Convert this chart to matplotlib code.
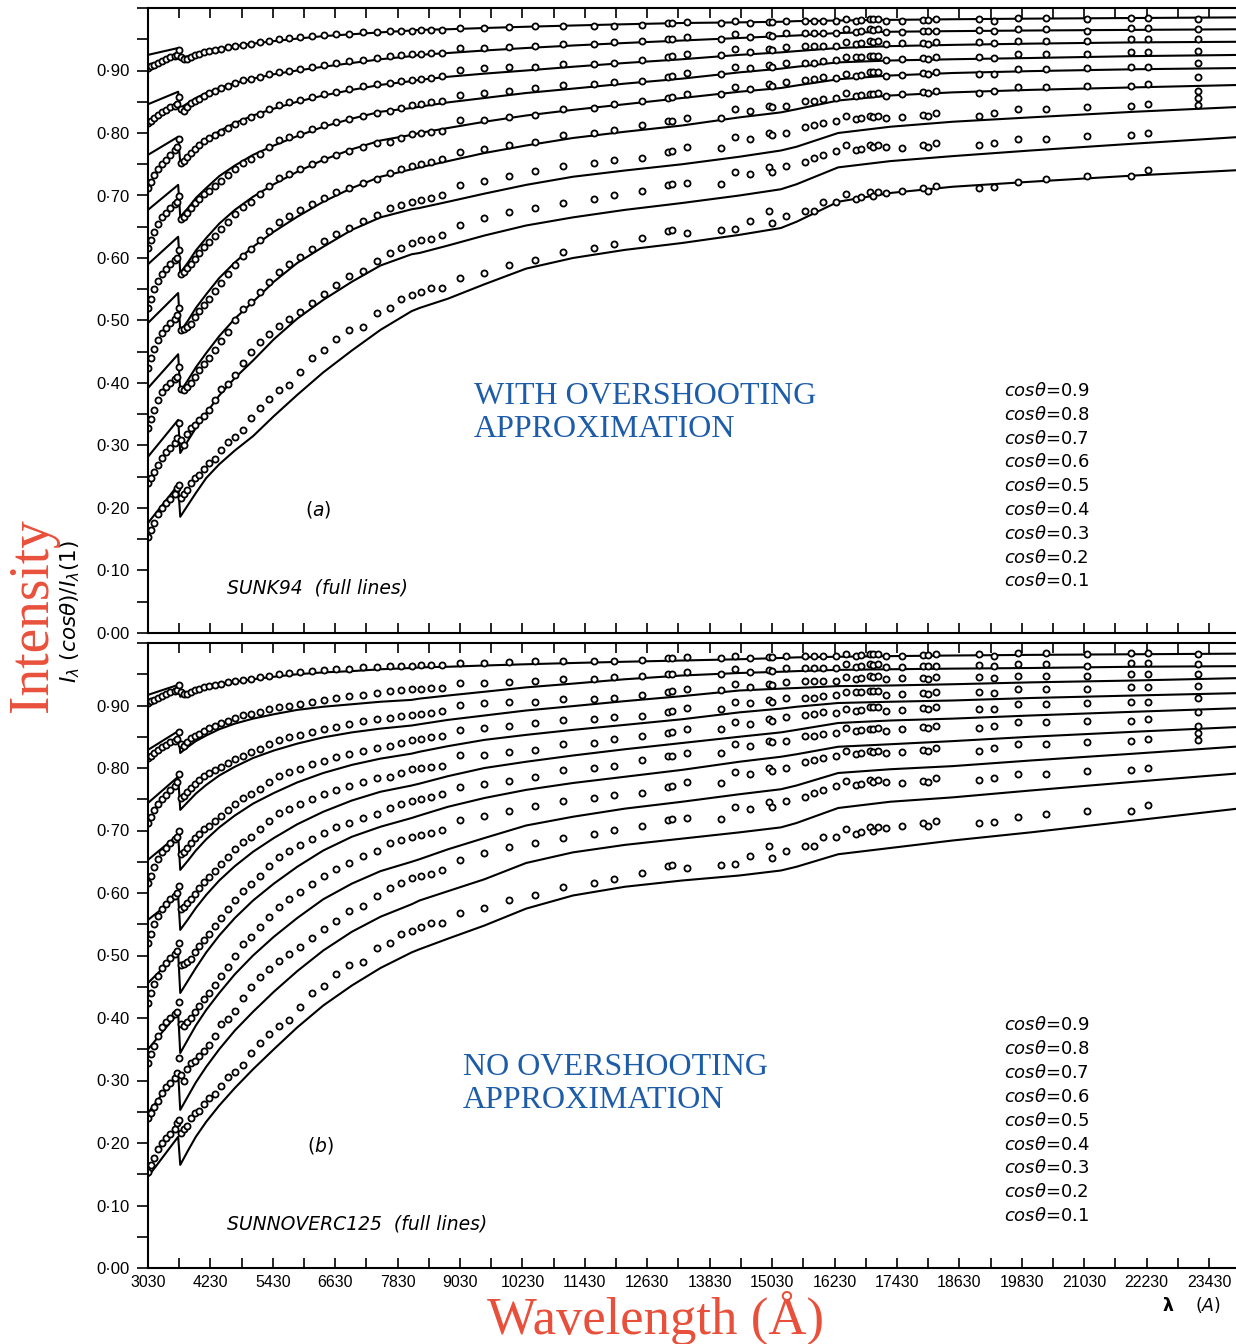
import numpy as np
import matplotlib
matplotlib.use("Agg")
import matplotlib.pyplot as plt
from matplotlib.ticker import FixedLocator, MultipleLocator, FuncFormatter

# centre-to-limb intensity ratios I(mu)/I(1), mu = 0.9 ... 0.1
MU = [0.9, 0.8, 0.7, 0.6, 0.5, 0.4, 0.3, 0.2, 0.1]

# model wavelengths (A); 3610/3650 bracket the Balmer jump, 8100/8250 the Paschen jump
MODEL_WL = [3030, 3610, 3650, 3800, 3950, 4150, 4400, 4700, 5050, 5450, 5900, 6400,
            6950, 7500, 8100, 8250, 8800, 9500, 10300, 11200, 12200, 13300, 14400,
            15200, 15500, 16300, 17300, 18500, 20000, 22000, 24090]

# SUNK94 (with overshooting)
MODEL_A = [
    [.925, .936, .920, .923, .927, .931, .935, .939, .943, .947, .951, .955, .958, .961, .964, .965,
     .966, .968, .970, .972, .974, .976, .977, .978, .979, .980, .981, .982, .983, .984, .985],
    [.846, .866, .840, .848, .856, .864, .872, .880, .887, .894, .900, .906, .912, .918, .923, .925,
     .928, .932, .936, .940, .944, .948, .952, .955, .956, .960, .962, .963, .964, .965, .966],
    [.765, .794, .752, .764, .776, .789, .803, .816, .828, .839, .850, .860, .869, .877, .883, .885,
     .890, .895, .900, .906, .912, .918, .925, .929, .931, .936, .939, .941, .943, .945, .946],
    [.677, .717, .666, .680, .696, .712, .731, .748, .765, .780, .795, .810, .823, .834, .840, .842,
     .849, .856, .864, .871, .879, .887, .897, .903, .906, .913, .916, .918, .920, .923, .925],
    [.590, .634, .576, .593, .612, .632, .655, .677, .698, .718, .738, .757, .774, .788, .797, .800,
     .808, .818, .828, .837, .846, .856, .866, .872, .876, .886, .892, .896, .899, .902, .904],
    [.496, .544, .482, .500, .520, .542, .568, .593, .618, .642, .666, .690, .712, .730, .742, .745,
     .755, .768, .780, .792, .802, .812, .825, .833, .838, .852, .860, .865, .869, .873, .877],
    [.392, .446, .386, .405, .425, .448, .475, .503, .530, .562, .592, .618, .645, .665, .678, .680,
     .690, .703, .717, .730, .740, .750, .762, .772, .778, .800, .810, .818, .825, .834, .842],
    [.282, .341, .288, .308, .328, .352, .380, .408, .436, .470, .503, .533, .562, .588, .606, .608,
     .620, .636, .652, .665, .677, .688, .700, .710, .718, .745, .755, .763, .772, .783, .794],
    [.176, .237, .186, .205, .224, .248, .270, .292, .315, .347, .381, .417, .452, .485, .515, .520,
     .535, .558, .583, .600, .613, .624, .637, .648, .658, .690, .704, .714, .722, .732, .741],
]

# SUNNOVERC125 (no overshooting)
MODEL_B = [
    [.917, .933, .914, .919, .924, .929, .934, .938, .942, .946, .950, .953, .955, .958, .960, .961,
     .962, .964, .966, .968, .970, .972, .974, .976, .977, .978, .979, .980, .981, .982, .983],
    [.829, .859, .824, .834, .843, .852, .862, .871, .879, .886, .893, .898, .902, .906, .909, .911,
     .916, .922, .929, .935, .942, .948, .952, .954, .955, .957, .958, .959, .960, .962, .963],
    [.744, .786, .733, .746, .759, .773, .788, .802, .816, .828, .839, .849, .857, .863, .868, .870,
     .877, .884, .892, .899, .907, .915, .924, .927, .928, .931, .932, .934, .937, .940, .944],
    [.653, .693, .637, .652, .668, .686, .705, .724, .743, .760, .777, .792, .805, .815, .823, .826,
     .835, .845, .853, .861, .869, .878, .889, .895, .898, .904, .906, .908, .912, .916, .920],
    [.557, .595, .541, .558, .576, .597, .620, .643, .666, .688, .710, .730, .748, .762, .772, .775,
     .787, .800, .810, .820, .830, .840, .850, .857, .861, .872, .876, .879, .884, .890, .896],
    [.456, .504, .440, .460, .480, .505, .532, .560, .588, .615, .642, .668, .690, .706, .720, .724,
     .738, .752, .765, .776, .786, .797, .810, .818, .822, .834, .838, .843, .850, .858, .866],
    [.350, .408, .344, .366, .388, .413, .440, .470, .500, .530, .560, .590, .615, .635, .650, .654,
     .670, .688, .708, .722, .735, .746, .758, .766, .772, .792, .798, .803, .812, .823, .835],
    [.248, .312, .253, .275, .297, .322, .350, .380, .410, .442, .475, .508, .538, .562, .582, .588,
     .603, .622, .648, .665, .677, .687, .697, .705, .712, .736, .746, .753, .764, .778, .792],
    [.146, .210, .165, .188, .210, .234, .260, .288, .318, .350, .385, .420, .452, .480, .505, .510,
     .527, .548, .575, .596, .610, .620, .628, .636, .642, .662, .672, .684, .697, .716, .736],
]

# observed limb darkening, dense blue/visible part (one row per mu)
OBS_WL_BLUE = [3030, 3080, 3150, 3220, 3300, 3380, 3460, 3540, 3590, 3630, 3670, 3720,
               3780, 3850, 3930, 4010, 4100, 4200, 4310, 4430, 4560, 4700, 4850, 5010,
               5180, 5360, 5550, 5750, 5960, 6180, 6410, 6650, 6900, 7160, 7440]
OBS_BLUE = [
    [.904, .907, .909, .912, .915, .918, .921, .923, .925, .933, .921, .918, .919, .922, .925, .927, .930, .932,
     .933, .935, .937, .939, .941, .943, .945, .947, .950, .952, .954, .955, .957, .958, .959, .961, .962],
    [.816, .820, .824, .829, .833, .837, .841, .844, .846, .858, .838, .836, .842, .848, .851, .855, .860, .864,
     .868, .872, .876, .880, .885, .887, .890, .894, .897, .900, .903, .906, .909, .912, .915, .917, .920],
    [.712, .722, .733, .742, .750, .757, .765, .772, .778, .790, .752, .755, .762, .768, .775, .781, .787, .792,
     .797, .802, .808, .814, .820, .825, .831, .838, .845, .849, .853, .858, .862, .866, .870, .875, .879],
    [.616, .628, .642, .654, .665, .672, .680, .686, .690, .700, .662, .665, .672, .680, .688, .695, .702, .708,
     .716, .724, .733, .743, .752, .758, .767, .778, .788, .793, .799, .806, .812, .818, .822, .828, .832],
    [.520, .535, .550, .563, .575, .583, .590, .596, .600, .612, .575, .578, .584, .590, .599, .608, .617, .625,
     .635, .646, .658, .670, .682, .690, .702, .716, .728, .735, .743, .750, .758, .765, .771, .778, .784],
    [.424, .440, .455, .468, .480, .488, .496, .503, .508, .520, .485, .486, .490, .495, .505, .515, .525, .535,
     .547, .560, .574, .589, .603, .614, .628, .643, .657, .667, .677, .687, .696, .705, .712, .720, .726],
    [.328, .342, .356, .372, .385, .393, .400, .406, .410, .425, .390, .388, .394, .400, .410, .420, .430, .440,
     .453, .467, .482, .500, .518, .530, .545, .562, .577, .590, .602, .614, .627, .638, .648, .659, .668],
    [.240, .248, .258, .268, .280, .289, .296, .304, .312, .336, .309, .300, .318, .328, .332, .340, .347, .357,
     .372, .390, .398, .412, .432, .450, .466, .478, .491, .503, .514, .528, .543, .556, .572, .580, .595],
    [.154, .165, .176, .190, .200, .208, .214, .222, .232, .237, .216, .222, .228, .240, .248, .252, .262, .272,
     .278, .292, .306, .314, .325, .344, .360, .375, .388, .397, .418, .440, .452, .470, .485, .490, .512],
]

# observed limb darkening, red/infrared points (one row per wavelength, mu = 0.9 ... 0.1)
OBS_WL_IR = [7675, 7890, 8100, 8275, 8470, 8680, 9030, 9490, 9975, 10480, 11000, 11600,
             11990, 12530, 13020, 13100, 13400, 14040, 14310, 14600, 14970, 15030, 15300,
             15670, 15840, 16000, 16250, 16460, 16640, 16730, 16910, 16970, 17060, 17220,
             17530, 17930, 18030, 18180, 19000, 19300, 19750, 20290, 21090, 21940, 22250, 23220]
OBS_IR = [
    [.963, .923, .880, .835, .786, .736, .680, .608, .520],
    [.964, .925, .883, .840, .792, .742, .685, .616, .535],
    [.964, .926, .885, .845, .798, .747, .690, .624, .540],
    [.965, .927, .887, .847, .800, .750, .693, .628, .545],
    [.965, .928, .888, .849, .802, .754, .696, .631, .552],
    [.965, .928, .891, .851, .803, .758, .701, .637, .552],
    [.968, .936, .901, .861, .821, .770, .717, .653, .568],
    [.968, .936, .904, .864, .821, .774, .724, .664, .576],
    [.970, .937, .906, .868, .825, .780, .732, .674, .589],
    [.971, .939, .906, .872, .829, .786, .739, .680, .597],
    [.971, .942, .910, .877, .838, .797, .747, .688, .610],
    [.972, .942, .911, .879, .840, .800, .752, .694, .616],
    [.972, .945, .912, .882, .846, .804, .757, .701, .623],
    [.973, .947, .917, .883, .851, .813, .760, .708, .632],
    [.976, .950, .922, .890, .856, .819, .770, .717, .643],
    [.976, .951, .923, .891, .857, .820, .771, .718, .645],
    [.978, .954, .927, .896, .862, .824, .777, .720, .640],
    [.976, .950, .925, .894, .862, .824, .776, .719, .645],
    [.979, .959, .935, .905, .874, .838, .794, .738, .647],
    [.976, .954, .930, .904, .871, .835, .791, .734, .659],
    [.977, .957, .935, .909, .879, .844, .800, .746, .675],
    [.977, .956, .933, .906, .876, .842, .796, .738, .656],
    [.979, .960, .937, .912, .881, .844, .800, .747, .667],
    [.980, .960, .939, .912, .885, .851, .809, .754, .675],
    [.980, .960, .939, .912, .886, .852, .813, .760, .675],
    [.980, .960, .940, .915, .889, .855, .816, .765, .690],
    [.980, .960, .940, .917, .888, .856, .820, .771, .690],
    [.983, .966, .946, .921, .895, .864, .827, .780, .702],
    [.980, .962, .943, .921, .892, .860, .822, .773, .694],
    [.981, .963, .944, .922, .893, .861, .824, .775, .697],
    [.983, .966, .947, .924, .898, .862, .828, .781, .705],
    [.982, .965, .946, .923, .897, .863, .826, .778, .700],
    [.983, .966, .947, .924, .898, .864, .828, .781, .706],
    [.980, .962, .943, .917, .892, .860, .824, .777, .704],
    [.980, .962, .944, .919, .893, .862, .825, .776, .707],
    [.981, .963, .944, .920, .896, .866, .829, .780, .712],
    [.981, .963, .943, .919, .894, .864, .827, .778, .708],
    [.982, .964, .945, .922, .898, .868, .832, .784, .716],
    [.982, .965, .946, .922, .894, .864, .827, .781, .712],
    [.980, .963, .944, .920, .894, .867, .832, .784, .714],
    [.984, .966, .948, .927, .902, .874, .839, .790, .722],
    [.984, .966, .948, .927, .902, .874, .839, .790, .727],
    [.983, .964, .948, .927, .904, .876, .841, .795, .732],
    [.984, .968, .950, .930, .905, .876, .843, .797, .732],
    [.984, .968, .950, .930, .906, .879, .846, .800, .741],
    [.983, .966, .950, .932, .912, .890, .867, .856, .845],
]

X_TICKS = list(range(3030, 24000, 1200))
X_MINOR = list(range(3630, 24000, 1200))

W, H = 1236, 1344
RED = "#e9503b"
BLUE = "#1d5ca8"


def fx(px):
    return px / W


def fy(py):
    return 1 - py / H


def draw_panel(ax, model_rows, show_xlabels):
    for row in model_rows:
        ax.plot(MODEL_WL, row, color="black", lw=1.5)
    mk = dict(ls="none", marker="o", ms=4.4, mfc="white", mec="black", mew=1.3)
    for row in OBS_BLUE:
        ax.plot(OBS_WL_BLUE, row, **mk)
    for row in np.array(OBS_IR).T:
        ax.plot(OBS_WL_IR, row, **mk)

    ax.set_xlim(3030, 23950)
    ax.set_ylim(0.0, 1.0)
    ax.xaxis.set_major_locator(FixedLocator(X_TICKS))
    ax.xaxis.set_minor_locator(FixedLocator(X_MINOR))
    ax.yaxis.set_major_locator(MultipleLocator(0.1))
    ax.yaxis.set_minor_locator(MultipleLocator(0.05))
    ax.yaxis.set_major_formatter(
        FuncFormatter(lambda v, p: f"{v:.2f}".replace(".", "·") if v < 0.95 else ""))
    ax.tick_params(axis="x", which="both", direction="in", top=True, bottom=True,
                   length=7, width=1.2, labelbottom=show_xlabels, labelsize=11.5, pad=5)
    ax.tick_params(axis="y", which="both", direction="out", left=True, right=False,
                   length=8, width=1.2, labelsize=12, pad=5)
    for lab in ax.get_xticklabels() + ax.get_yticklabels():
        lab.set_family("Liberation Sans")
    ax.spines["right"].set_visible(False)
    for s in ("left", "top", "bottom"):
        ax.spines[s].set_linewidth(1.5)


plt.rcParams["mathtext.fontset"] = "dejavusans"

fig = plt.figure(figsize=(W / 100, H / 100), dpi=100)
ax_a = fig.add_axes([fx(148), fy(633), fx(1088), 625 / H])
ax_b = fig.add_axes([fx(148), fy(1268), fx(1088), 625 / H])
draw_panel(ax_a, MODEL_A, False)
draw_panel(ax_b, MODEL_B, True)

# panel annotations
fig.text(fx(318), fy(509), "$(a)$", fontsize=13.5, ha="center", va="center")
fig.text(fx(227), fy(588), "SUNK94  (full lines)", fontsize=13.5, style="italic",
         family="DejaVu Sans", ha="left", va="center")
fig.text(fx(320), fy(1145), "$(b)$", fontsize=13.5, ha="center", va="center")
fig.text(fx(227), fy(1224), "SUNNOVERC125  (full lines)", fontsize=13.5, style="italic",
         family="DejaVu Sans", ha="left", va="center")

fig.text(fx(474), fy(413), "WITH OVERSHOOTING\nAPPROXIMATION", color=BLUE, fontsize=23,
         family="Liberation Serif", ha="left", va="center", linespacing=1.15)
fig.text(fx(463), fy(1084), "NO OVERSHOOTING\nAPPROXIMATION", color=BLUE, fontsize=23,
         family="Liberation Serif", ha="left", va="center", linespacing=1.15)

for i, mu in enumerate(MU):
    fig.text(fx(1004), fy(391 + 23.8 * i), rf"$cos\theta$=$\mathrm{{{mu}}}$", fontsize=13,
             ha="left", va="center")
    fig.text(fx(1004), fy(1025 + 23.9 * i), rf"$cos\theta$=$\mathrm{{{mu}}}$", fontsize=13,
             ha="left", va="center")

# axis titles
fig.text(fx(70), fy(612), r"$I_\lambda\ (cos\theta)/I_\lambda(1)$", rotation=90, fontsize=15.5,
         ha="center", va="center")
fig.text(fx(33), fy(615), "Intensity", rotation=90, color=RED, fontsize=40,
         family="Liberation Serif", ha="center", va="center")
fig.text(fx(656), fy(1318), "Wavelength (Å)", color=RED, fontsize=38,
         family="Liberation Serif", ha="center", va="center")
fig.text(fx(1192), fy(1305), r"$\mathbf{\lambda}$    $(A)$", fontsize=12.5, ha="center", va="center")

fig.savefig("out.png", dpi=100)
